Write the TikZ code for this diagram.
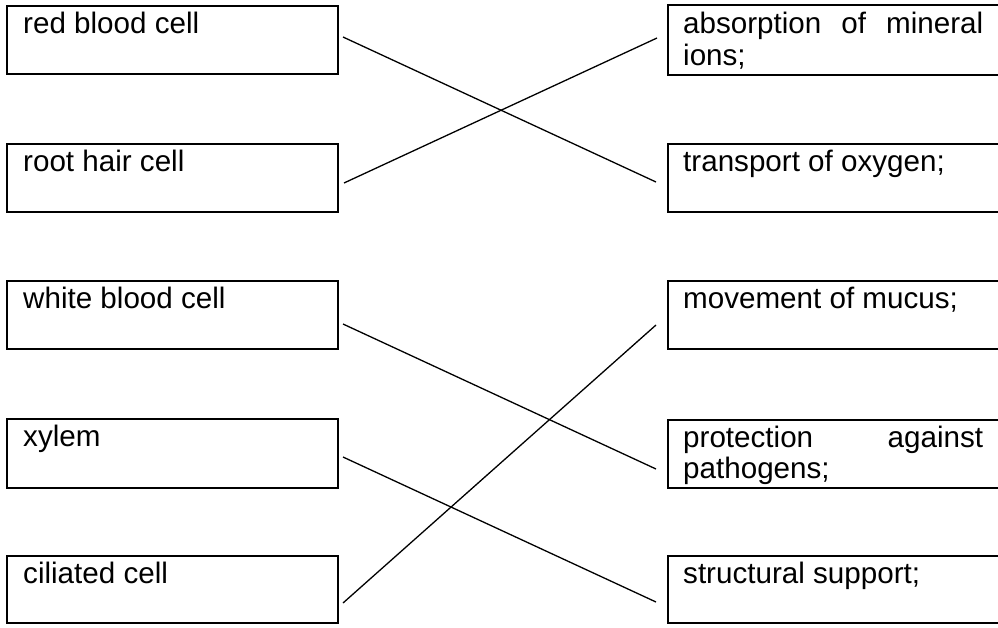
\documentclass[tikz,border=0pt]{standalone}
\usepackage{fontspec}
\setmainfont{Liberation Sans}
\begin{document}
\begin{tikzpicture}[x=1pt,y=-1pt,
  cellbox/.style={draw=black,line width=2pt,inner sep=0pt,outer sep=0pt,anchor=north west,minimum width=331pt,minimum height=68pt},
  funcbox/.style={draw=black,line width=2pt,inner sep=0pt,outer sep=0pt,anchor=north west,minimum width=360pt,minimum height=68pt},
  lbl/.style={anchor=base west,inner sep=0pt,font=\fontsize{29.6}{33}\selectfont},
  link/.style={draw=black,line width=1.3pt}]
\useasboundingbox (0,0) rectangle (998,627);
\clip (0,0) rectangle (998,627);
\fill[white] (0,0) rectangle (998,627);
% left boxes
\node[cellbox] (L1) at (7,6) {};
\node[cellbox] (L2) at (7,144) {};
\node[cellbox] (L3) at (7,281) {};
\node[cellbox,minimum height=69pt] (L4) at (7,419) {};
\node[cellbox,minimum height=67pt] (L5) at (7,556) {};
\node[lbl] (t1) at (23,33) {red blood cell};
\node[lbl] (t2) at (23,171) {root hair cell};
\node[lbl] (t3) at (23,308) {white blood cell};
\node[lbl] (t4) at (23,446) {xylem};
\node[lbl] (t5) at (23,583) {ciliated cell};
% right boxes
\node[funcbox,minimum height=70pt] (R1) at (668,5) {};
\node[funcbox] (R2) at (668,144) {};
\node[funcbox] (R3) at (668,281) {};
\node[funcbox] (R4) at (668,420) {};
\node[funcbox,minimum height=67pt] (R5) at (668,556) {};
\node[lbl] (u1) at (683,33) {\hbox to 300pt{absorption\hfill of\hfill mineral}};
\node[lbl] (u1b) at (683,65) {ions;};
\node[lbl] (u2) at (683,171) {transport of oxygen;};
\node[lbl] (u3) at (683,308) {movement of mucus;};
\node[lbl] (u4) at (683,447) {\hbox to 300pt{protection\hfill against}};
\node[lbl] (u4b) at (683,478) {pathogens;};
\node[lbl] (u5) at (683,583) {structural support;};
% connector ends
\coordinate (a1) at (343,37);
\coordinate (a2) at (344,183);
\coordinate (a3) at (343,324);
\coordinate (a4) at (343,457);
\coordinate (a5) at (343,603);
\coordinate (b1) at (657,38);
\coordinate (b2) at (656,182);
\coordinate (b3) at (656,325);
\coordinate (b4) at (656,469);
\coordinate (b5) at (656,602);
\draw[link] (a1) -- (b2);
\draw[link] (a2) -- (b1);
\draw[link] (a3) -- (b4);
\draw[link] (a4) -- (b5);
\draw[link] (a5) -- (b3);
\end{tikzpicture}
\end{document}
